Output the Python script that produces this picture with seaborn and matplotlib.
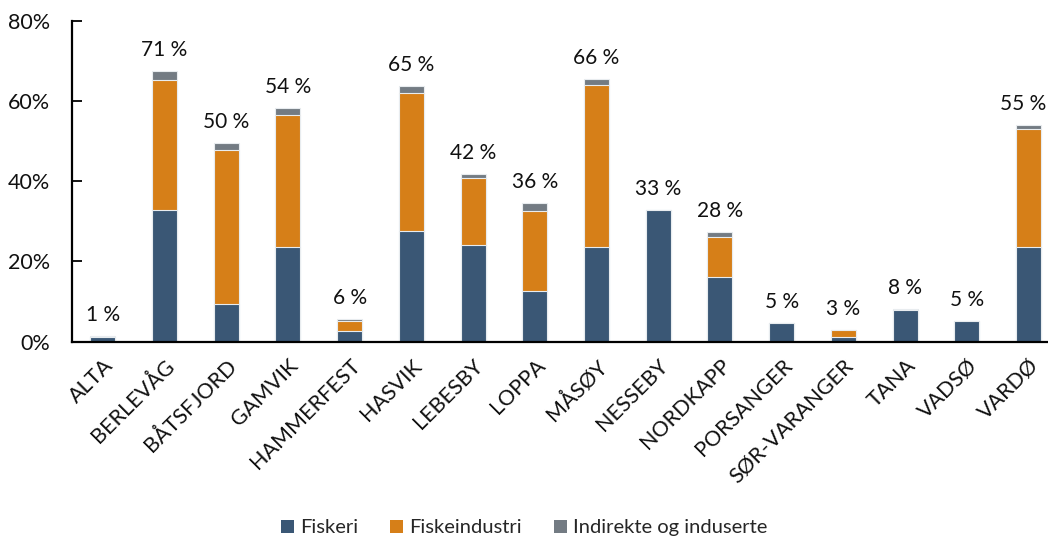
import matplotlib
matplotlib.use("Agg")
import matplotlib.pyplot as plt
import seaborn as sns
import pandas as pd
import numpy as np
from matplotlib.patches import Patch

categories = ["ALTA", "BERLEVÅG", "BÅTSFJORD", "GAMVIK", "HAMMERFEST", "HASVIK",
              "LEBESBY", "LOPPA", "MÅSØY", "NESSEBY", "NORDKAPP", "PORSANGER",
              "SØR-VARANGER", "TANA", "VADSØ", "VARDØ"]
fiskeri = [1.2, 32.7, 9.3, 23.6, 2.7, 27.5, 24.2, 12.6, 23.7, 32.7, 16.1, 4.7, 1.25, 8.0, 5.1, 23.5]
fiskeindustri = [0.0, 32.4, 38.5, 33.0, 2.5, 34.4, 16.5, 19.9, 40.3, 0.0, 10.1, 0.0, 1.65, 0.0, 0.0, 29.4]
indirekte = [0.1, 2.4, 1.7, 1.7, 0.4, 1.8, 1.0, 2.0, 1.4, 0.0, 1.1, 0.0, 0.0, 0.1, 0.0, 1.0]
labels = ["1 %", "71 %", "50 %", "54 %", "6 %", "65 %", "42 %", "36 %", "66 %", "33 %",
          "28 %", "5 %", "3 %", "8 %", "5 %", "55 %"]
series_names = ["Fiskeri", "Fiskeindustri", "Indirekte og induserte"]
colors = ["#3A5775", "#D67F18", "#737B83"]

df = pd.DataFrame({"kommune": categories, "fiskeri": fiskeri,
                   "fiskeindustri": fiskeindustri, "indirekte": indirekte})
df["lvl1"] = df["fiskeri"]
df["lvl2"] = df["fiskeri"] + df["fiskeindustri"]
df["lvl3"] = df["lvl2"] + df["indirekte"]

sns.set_theme(style="white")
plt.rcParams["font.family"] = ["Lato", "DejaVu Sans"]

fig = plt.figure(figsize=(10.48, 5.42), dpi=100)
ax = fig.add_axes([72 / 1048, (542 - 341.7) / 542, (1059.4 - 72) / 1048, 321 / 542])

w = 0.405
for col, c in zip(["lvl3", "lvl2", "lvl1"], [colors[2], colors[1], colors[0]]):
    sns.barplot(data=df, x="kommune", y=col, color=c, width=w, ax=ax,
                edgecolor="#E8ECEF", linewidth=0.8, saturation=1, errorbar=None)

n = len(categories)
for i, (tot, lab) in enumerate(zip(df["lvl3"], labels)):
    dx = -4 if i == n - 1 else 0
    ax.annotate(lab, (i, tot), xytext=(dx, 8), textcoords="offset points",
                ha="center", va="bottom", fontsize=15, color="#111111",
                annotation_clip=False)

ax.set_xlim(-0.5, n - 0.5)
ax.set_ylim(0, 80)
ax.set_yticks([0, 20, 40, 60, 80])
ax.set_yticklabels(["0%", "20%", "40%", "60%", "80%"], fontsize=15.5, color="#111111")
ax.tick_params(axis="y", direction="in", length=7, width=1.3, color="black", pad=16, left=True)
ax.tick_params(axis="x", length=0, pad=10)
ax.set_xticks(range(n))
ax.set_xticklabels(categories, rotation=45, ha="right", rotation_mode="anchor",
                   fontsize=15.5, color="#111111")
ax.set_xlabel("")
ax.set_ylabel("")
for s in ["top", "right"]:
    ax.spines[s].set_visible(False)
for s in ["left", "bottom"]:
    ax.spines[s].set_color("black")
    ax.spines[s].set_linewidth(1.6)

handles = [Patch(facecolor=c, edgecolor="none") for c in colors]
fig.legend(handles, series_names, loc="center", bbox_to_anchor=(0.5, 0.026), ncol=3,
           frameon=False, fontsize=14.5, handlelength=0.65, handleheight=0.65,
           handletextpad=0.3, columnspacing=1.6)

fig.savefig("out.png", dpi=100)
